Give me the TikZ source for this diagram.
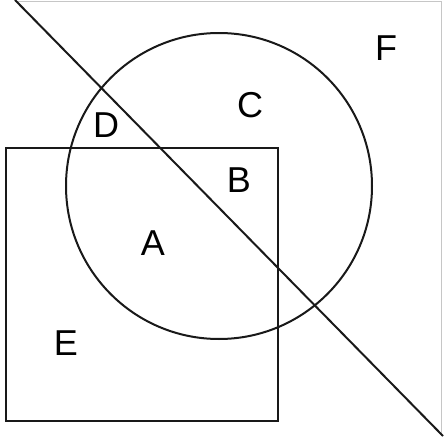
\documentclass[tikz,border=0pt]{standalone}
\usepackage{fontspec}
\setmainfont{Liberation Sans}
\usepackage{tikz}

\begin{document}
\begin{tikzpicture}[
                x=1pt, y=-1pt,
                region/.style={font=\fontsize{36}{36}\selectfont, inner sep=0pt},
                outline/.style={line width=2pt, black!90},
                rim/.style={line width=0.8pt, gray!45}
            ]
                \useasboundingbox (0,0) rectangle (445,439);

                % triangle F
                \draw[rim] (15,1) -- (441,1) -- (441,436);
                \draw[outline] (15,0) -- (443,436);

                % square E and circle C
                \draw[outline] (6,148) rectangle (278,421);
                \draw[outline] (219,186) circle (153);

                \node[region] (lF) at (386,48) {F};
                \node[region] (lC) at (250,105) {C};
                \node[region] (lD) at (106,125) {D};
                \node[region] (lB) at (239,180) {B};
                \node[region] (lA) at (153,243) {A};
                \node[region] (lE) at (66,343) {E};
            \end{tikzpicture}
\end{document}
